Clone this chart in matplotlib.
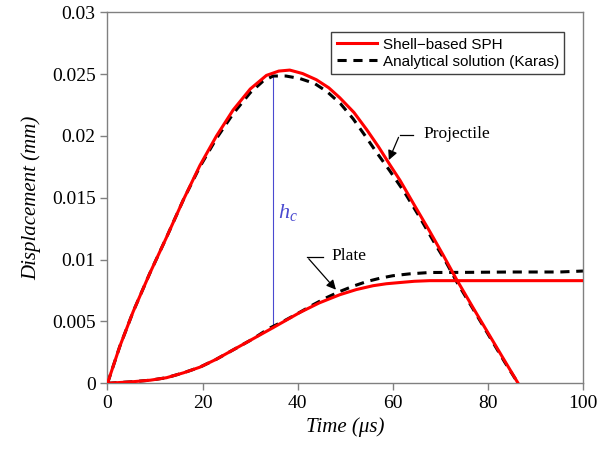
import matplotlib
matplotlib.use("Agg")
import matplotlib.pyplot as plt

plt.rcParams["mathtext.fontset"] = "custom"
plt.rcParams["mathtext.it"] = "Liberation Serif:italic"
plt.rcParams["mathtext.rm"] = "Liberation Serif"

# projectile displacement (mm) vs time (us)
t_proj_sph = [0, 2.6, 5.4, 8.9, 12.4, 15.9, 19.4, 22.9, 26.4, 30, 33.4, 36, 38.3, 41, 43.9, 46.5, 48.8, 51.8, 54.5, 57, 59.3, 61.5, 64.5, 67.7, 70.5, 73.4, 77, 80.4, 83.5, 86.3]
d_proj_sph = [0, 0.0030, 0.0058, 0.0089, 0.0118, 0.0148, 0.0176, 0.0200, 0.0221, 0.0238, 0.0249, 0.02525, 0.02533, 0.02505, 0.02455, 0.0239, 0.0231, 0.0219, 0.0205, 0.0191, 0.0177, 0.0164, 0.0144, 0.0123, 0.0104, 0.00837, 0.0060, 0.0038, 0.0018, 0.0]

t_proj_ana = [0, 2.6, 5.4, 8.9, 12.4, 15.9, 19.4, 22.9, 26.4, 30, 32.7, 34.8, 37.5, 40.4, 43.5, 46.1, 49, 51.6, 54, 56.5, 59.3, 62.5, 65.5, 68.5, 71, 73.4, 77, 80.4, 83.5, 86.3]
d_proj_ana = [0, 0.0030, 0.0058, 0.0089, 0.0118, 0.0148, 0.0175, 0.0198, 0.0218, 0.0235, 0.02444, 0.02485, 0.02485, 0.02465, 0.02425, 0.0236, 0.0226, 0.0214, 0.0201, 0.0187, 0.0172, 0.0154, 0.0135, 0.0115, 0.0099, 0.0082, 0.0059, 0.0037, 0.0017, 0.0]

# plate displacement (mm) vs time (us)
t_plate_sph = [0, 5.4, 9, 12.4, 16, 19.4, 22.9, 26.4, 30.6, 34.8, 40.4, 44.5, 48.8, 52.3, 55.8, 58.6, 61.5, 64.5, 67.7, 75, 85, 100]
d_plate_sph = [0, 0.00013, 0.00025, 0.00045, 0.00085, 0.0013, 0.00195, 0.0027, 0.0036, 0.0045, 0.00572, 0.0065, 0.00716, 0.00758, 0.00789, 0.00805, 0.00815, 0.00825, 0.0083, 0.0083, 0.0083, 0.0083]

t_plate_ana = [0, 5.4, 9, 12.4, 16, 19.4, 22.9, 26.4, 30.6, 34, 36.9, 40, 43.2, 46, 48.8, 51.6, 54.5, 57.3, 60, 63.5, 67.7, 75, 85, 95, 100]
d_plate_ana = [0, 0.00013, 0.00025, 0.00045, 0.00085, 0.0013, 0.00195, 0.0027, 0.0036, 0.00445, 0.0050, 0.00565, 0.00635, 0.00692, 0.00742, 0.00785, 0.00823, 0.0085, 0.0087, 0.00885, 0.00896, 0.00897, 0.009, 0.009, 0.00908]

x_ticks = [0, 20, 40, 60, 80, 100]
y_ticks = [0, 0.005, 0.01, 0.015, 0.02, 0.025, 0.03]
y_ticklabels = ["0", "0.005", "0.01", "0.015", "0.02", "0.025", "0.03"]

serif = ["Liberation Serif", "DejaVu Serif"]

fig = plt.figure(figsize=(6.08, 4.57), dpi=100)
ax = fig.add_axes([0.1768, 0.1613, 0.7826, 0.8117])

ax.plot(t_proj_sph, d_proj_sph, color="#ff0000", lw=2.2, label="Shell\u2212based SPH", zorder=3)
ax.plot(t_plate_sph, d_plate_sph, color="#ff0000", lw=2.2, zorder=3)
ax.plot(t_proj_ana, d_proj_ana, color="black", lw=2.2, ls=(0, (3, 2.2)), label="Analytical solution (Karas)", zorder=2)
ax.plot(t_plate_ana, d_plate_ana, color="black", lw=2.2, ls=(0, (3, 2.2)), zorder=2)

# h_c marker
ax.plot([34.8, 34.8], [0.0045, 0.02485], color="#4a4ad0", lw=0.8, zorder=1)
ax.text(35.8, 0.0138, r"$h_c$", color="#4a4ad0", fontsize=16, va="center")

# leader annotations
ax.plot([61.4, 64.2], [0.0201, 0.0201], color="black", lw=0.9)
ax.annotate("", xy=(58.9, 0.01785), xytext=(61.4, 0.0201),
            arrowprops=dict(arrowstyle="-|>", color="black", lw=0.9, mutation_scale=14))
ax.text(66.5, 0.0202, "Projectile", fontsize=12.5, family=serif, va="center")

ax.plot([41.9, 45.3], [0.01024, 0.01024], color="black", lw=0.9)
ax.annotate("", xy=(48.4, 0.0074), xytext=(41.9, 0.01024),
            arrowprops=dict(arrowstyle="-|>", color="black", lw=0.9, mutation_scale=14))
ax.text(47.0, 0.0103, "Plate", fontsize=12.5, family=serif, va="center")

ax.set_xlim(0, 100)
ax.set_ylim(0, 0.03)
ax.set_xticks(x_ticks)
ax.set_xticklabels([str(v) for v in x_ticks], family=serif, fontsize=14)
ax.set_yticks(y_ticks)
ax.set_yticklabels(y_ticklabels, family=serif, fontsize=14)
ax.tick_params(direction="out", length=5, color="#808080", width=1)
for s in ax.spines.values():
    s.set_color("#808080")
    s.set_linewidth(1)

ax.set_xlabel("Time (\u03bcs)", family=serif, style="italic", fontsize=15, labelpad=4)
ax.set_ylabel("Displacement (mm)", family=serif, style="italic", fontsize=15, labelpad=8)

leg = ax.legend(loc="upper right", bbox_to_anchor=(0.976, 0.967), fancybox=False,
                prop={"family": "Liberation Sans", "size": 11}, handlelength=2.6,
                borderpad=0.35, labelspacing=0.2, handletextpad=0.4, framealpha=1)
leg.get_frame().set_edgecolor("#404040")
leg.get_frame().set_linewidth(1)

fig.savefig("out.png", dpi=100)
